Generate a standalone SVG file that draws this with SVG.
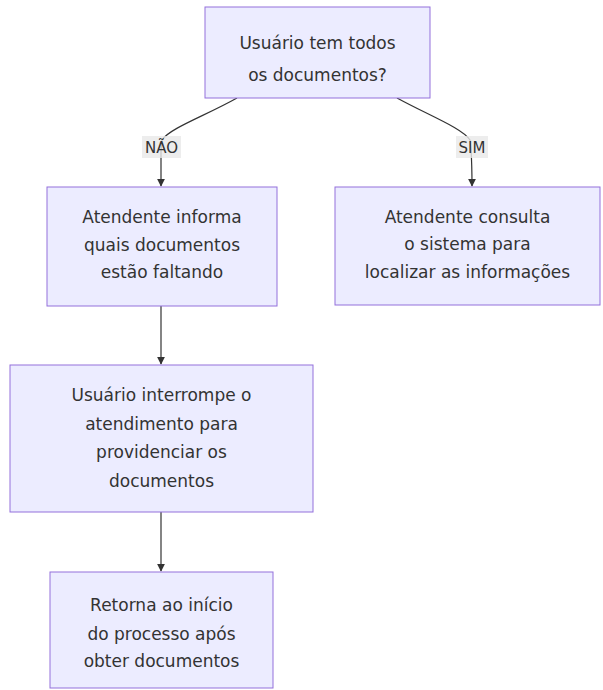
<svg xmlns="http://www.w3.org/2000/svg" width="603" height="690" viewBox="0 0 603 690">
<defs>
<marker id="arr" viewBox="0 0 10 10" refX="9" refY="5" markerWidth="8" markerHeight="8" orient="auto" markerUnits="userSpaceOnUse">
<path d="M0,0 L10,5 L0,10 z" fill="#333"/>
</marker>
<style>
.node rect{fill:#ECECFF;stroke:#9370DB;stroke-width:1}
.node text{font-family:"DejaVu Sans",Verdana,sans-serif;font-size:17px;fill:#333;text-anchor:middle}
.edge{fill:none;stroke:#333;stroke-width:1.2}
.lbl rect{fill:#e8e8e8;opacity:0.8}
.lbl text{font-family:"DejaVu Sans",Verdana,sans-serif;font-size:15px;fill:#333;text-anchor:middle}
</style>
</defs>
<rect width="603" height="690" fill="#fff"/>
<g id="connectors">
<path class="edge" d="M237,98 C205,116 170,128 162,140 L161,150 C161,165 161,175 161,186" marker-end="url(#arr)"/>
<path class="edge" d="M397,98 C430,116 462,128 470,140 L471,150 C472,165 472,175 472,186" marker-end="url(#arr)"/>
<path class="edge" d="M161,306 L161,364" marker-end="url(#arr)"/>
<path class="edge" d="M161,512 L161,571" marker-end="url(#arr)"/>
<g class="lbl"><rect x="142" y="136" width="39" height="22"/><text x="161.5" y="153">NÃO</text></g>
<g class="lbl"><rect x="456" y="136" width="32" height="22"/><text x="472" y="153">SIM</text></g>
</g>
<g id="n1" class="node"><rect x="205" y="7" width="225" height="91"/>
<text x="317.5" y="49">Usuário tem todos</text><text x="317.5" y="81">os documentos?</text></g>
<g id="n2" class="node"><rect x="47" y="187" width="230" height="119"/>
<text x="162" y="223">Atendente informa</text><text x="162" y="251">quais documentos</text><text x="162" y="278">estão faltando</text></g>
<g id="n3" class="node"><rect x="335" y="187" width="265" height="118"/>
<text x="467.5" y="223">Atendente consulta</text><text x="467.5" y="250">o sistema para</text><text x="467.5" y="278">localizar as informações</text></g>
<g id="n4" class="node"><rect x="10" y="365" width="303" height="147"/>
<text x="161.5" y="401">Usuário interrompe o</text><text x="161.5" y="430">atendimento para</text><text x="161.5" y="458">providenciar os</text><text x="161.5" y="487">documentos</text></g>
<g id="n5" class="node"><rect x="50" y="572" width="223" height="116"/>
<text x="161.5" y="611">Retorna ao início</text><text x="161.5" y="640">do processo após</text><text x="161.5" y="667">obter documentos</text></g>
</svg>
